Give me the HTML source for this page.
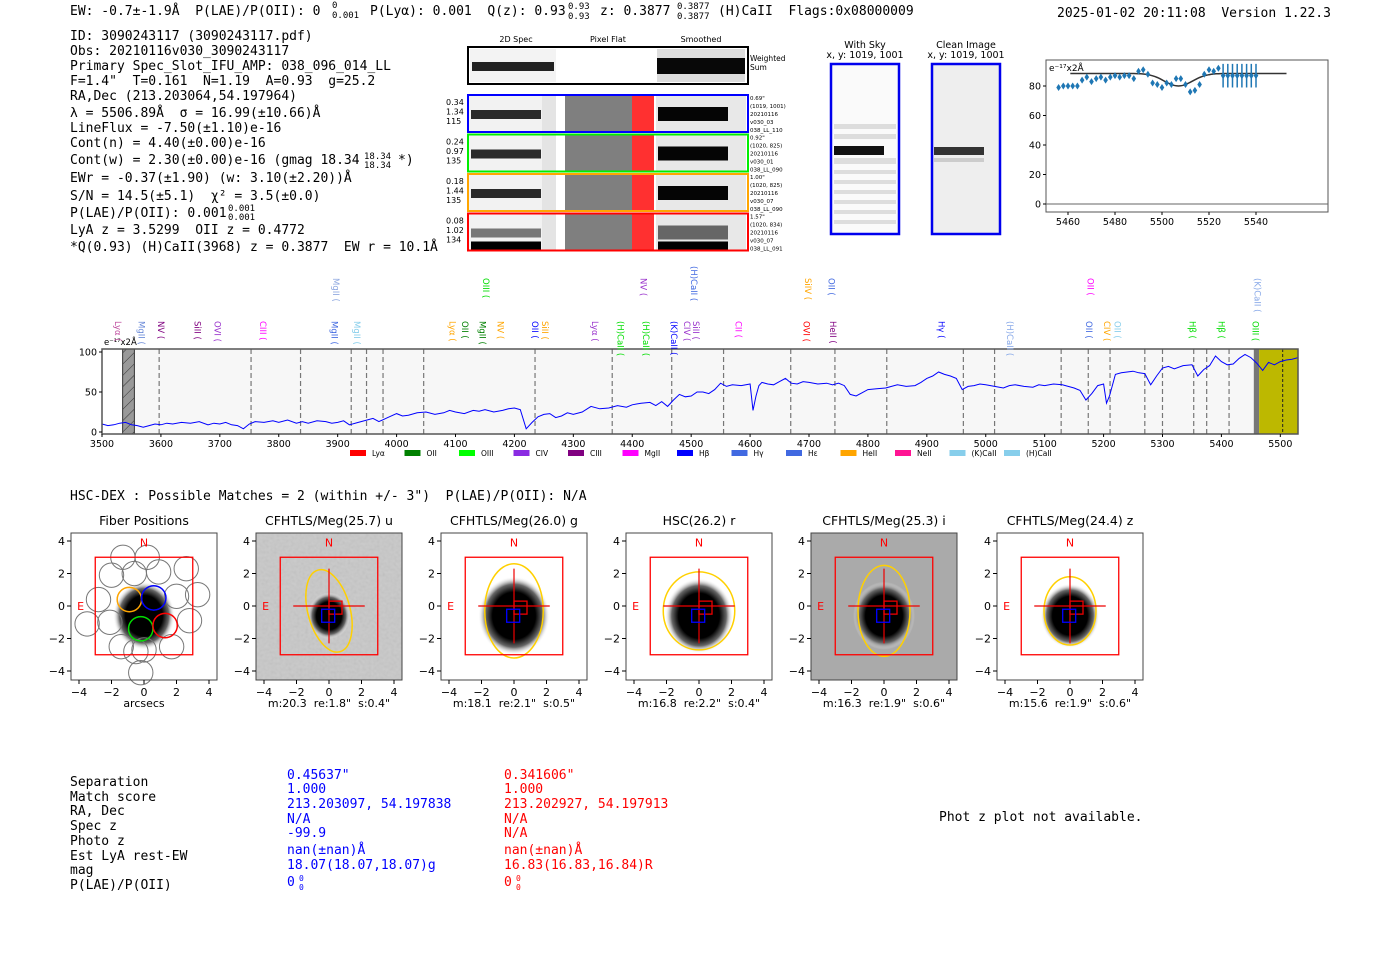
<!DOCTYPE html>
<html><head><meta charset="utf-8">
<style>
body{margin:0;background:#fff;width:1400px;height:953px;overflow:hidden}
svg{display:block}
text{white-space:pre}
.m{font-family:"DejaVu Sans Mono","Liberation Mono",monospace;font-size:13px;fill:#000}
.s{font-family:"DejaVu Sans","Liberation Sans",sans-serif;fill:#000}
</style></head>
<body>
<svg id="root" width="1400" height="953" viewBox="0 0 1400 953" xml:space="preserve">
<defs>
<radialGradient id="blob" cx="50%" cy="50%" r="50%"><stop offset="0" stop-color="#000"/><stop offset="0.6" stop-color="#000"/><stop offset="0.8" stop-color="#666"/><stop offset="1" stop-color="#fff" stop-opacity="0"/></radialGradient>
<pattern id="hatch" width="8" height="8" patternUnits="userSpaceOnUse" patternTransform="rotate(45)"><rect width="8" height="8" fill="#999"/><line x1="0" y1="0" x2="0" y2="8" stroke="#333" stroke-width="1"/></pattern>
<filter id="noise" x="0" y="0" width="1" height="1"><feTurbulence type="fractalNoise" baseFrequency="0.35" numOctaves="1" seed="3"/><feColorMatrix type="saturate" values="0"/><feComponentTransfer><feFuncA type="table" tableValues="0 0.35"/></feComponentTransfer></filter>
</defs>

<!-- header -->
<g class="m">
<text x="70" y="15">EW: -0.7±-1.9Å  P(LAE)/P(OII): 0</text>
<text x="332" y="8" font-size="9">0</text><text x="332" y="18" font-size="9">0.001</text>
<text x="370" y="15">P(Lyα): 0.001  Q(z): 0.93</text>
<text x="568" y="9" font-size="9">0.93</text><text x="568" y="19" font-size="9">0.93</text>
<text x="600" y="15">z: 0.3877</text>
<text x="677" y="9" font-size="9">0.3877</text><text x="677" y="19" font-size="9">0.3877</text>
<text x="718" y="15">(H)CaII  Flags:0x08000009</text>
<text x="1057" y="17">2025-01-02 20:11:08  Version 1.22.3</text>
</g>

<g class="m">
<text x="70" y="40">ID: 3090243117 (3090243117.pdf)</text>
<text x="70" y="55">Obs: 20210116v030_3090243117</text>
<text x="70" y="70">Primary Spec_Slot_IFU_AMP: 038_096_014_LL</text>
<text x="70" y="85">F=1.4"  T=0.161  N=1.19  A=0.93  g=25.2</text>
<text x="70" y="100">RA,Dec (213.203064,54.197964)</text>
<text x="70" y="117">λ = 5506.89Å  σ = 16.99(±10.66)Å</text>
<text x="70" y="132">LineFlux = -7.50(±1.10)e-16</text>
<text x="70" y="147">Cont(n) = 4.40(±0.00)e-16</text>
<text x="70" y="164">Cont(w) = 2.30(±0.00)e-16 (gmag 18.34</text>
<text x="364" y="159" font-size="9">18.34</text><text x="364" y="168" font-size="9">18.34</text>
<text x="398" y="164">*)</text>
<text x="70" y="182">EWr = -0.37(±1.90) (w: 3.10(±2.20))Å</text>
<text x="70" y="200">S/N = 14.5(±5.1)  χ² = 3.5(±0.0)</text>
<text x="70" y="217">P(LAE)/P(OII): 0.001</text>
<text x="228" y="211" font-size="9">0.001</text><text x="228" y="220" font-size="9">0.001</text>
<text x="70" y="234">LyA z = 3.5299  OII z = 0.4772</text>
<text x="70" y="251">*Q(0.93) (H)CaII(3968) z = 0.3877  EW r = 10.1Å</text>
</g>

<!-- 2D spectra -->
<g>
<g class="s" font-size="8">
<text x="516" y="42" text-anchor="middle">2D Spec</text>
<text x="608" y="42" text-anchor="middle">Pixel Flat</text>
<text x="701" y="42" text-anchor="middle">Smoothed</text>
</g>
<g>
<rect x="468" y="47" width="280" height="37" fill="#fff" stroke="#000" stroke-width="2"/>
<rect x="470" y="49" width="86" height="33" fill="#f3f3f3"/><rect x="472" y="62" width="82" height="9" fill="#222"/>
<rect x="657" y="49" width="88" height="33" fill="#ddd"/><rect x="657" y="58" width="88" height="16" fill="#080808"/>
<text class="s" x="750" y="61" font-size="7.5">Weighted</text><text class="s" x="750" y="70" font-size="7.5">Sum</text>
</g>
<g id="rows"></g>
</g>

<!-- with sky / clean -->
<g class="s" font-size="9.5">
<text x="865" y="48" text-anchor="middle">With Sky</text><text x="865" y="58" text-anchor="middle">x, y: 1019, 1001</text>
<text x="966" y="48" text-anchor="middle">Clean Image</text><text x="966" y="58" text-anchor="middle">x, y: 1019, 1001</text>
<rect x="831" y="64" width="68" height="170" fill="#fafafa" stroke="#0000ee" stroke-width="2.5"/>
<g fill="#ddd"><rect x="834" y="124" width="62" height="5"/><rect x="834" y="134" width="62" height="5"/><rect x="834" y="158" width="62" height="6"/><rect x="834" y="170" width="62" height="4"/><rect x="834" y="180" width="62" height="4"/><rect x="834" y="190" width="62" height="4"/><rect x="834" y="200" width="62" height="4"/><rect x="834" y="210" width="62" height="4"/><rect x="834" y="220" width="62" height="4"/></g>
<rect x="834" y="146" width="50" height="9" fill="#111"/>
<rect x="932" y="64" width="68" height="170" fill="#eee" stroke="#0000ee" stroke-width="2.5"/>
<rect x="934" y="147" width="50" height="8" fill="#333"/><rect x="934" y="158" width="50" height="4" fill="#ccc"/>
</g>

<!-- zoom line fit chart -->
<g id="fit">
<rect x="1046" y="60" width="282" height="152" fill="#fff" stroke="#555" stroke-width="1"/>
</g>

<!-- main spectrum -->
<g id="spec"></g>

<!-- HSC-DEX -->
<text class="m" x="70" y="500">HSC-DEX : Possible Matches = 2 (within +/- 3")  P(LAE)/P(OII): N/A</text>
<g id="cut"></g>

<!-- table -->
<g class="m" font-size="12.5">
<g><text x="70" y="786">Separation</text><text x="70" y="801">Match score</text><text x="70" y="815">RA, Dec</text><text x="70" y="830">Spec z</text><text x="70" y="845">Photo z</text><text x="70" y="860">Est LyA rest-EW</text><text x="70" y="874">mag</text><text x="70" y="889">P(LAE)/P(OII)</text></g>
<g><text x="287" y="779" style="fill:#00f">0.45637"</text><text x="287" y="793" style="fill:#00f">1.000</text><text x="287" y="808" style="fill:#00f">213.203097, 54.197838</text><text x="287" y="823" style="fill:#00f">N/A</text><text x="287" y="837" style="fill:#00f">-99.9</text><text x="287" y="854" style="fill:#00f">nan(±nan)Å</text><text x="287" y="869" style="fill:#00f">18.07(18.07,18.07)g</text><text x="287" y="886" style="fill:#00f">0</text><text x="299" y="881" font-size="8" style="fill:#00f">0</text><text x="299" y="890" font-size="8" style="fill:#00f">0</text></g>
<g><text x="504" y="779" style="fill:#f00">0.341606"</text><text x="504" y="793" style="fill:#f00">1.000</text><text x="504" y="808" style="fill:#f00">213.202927, 54.197913</text><text x="504" y="823" style="fill:#f00">N/A</text><text x="504" y="837" style="fill:#f00">N/A</text><text x="504" y="854" style="fill:#f00">nan(±nan)Å</text><text x="504" y="869" style="fill:#f00">16.83(16.83,16.84)R</text><text x="504" y="886" style="fill:#f00">0</text><text x="516" y="881" font-size="8" style="fill:#f00">0</text><text x="516" y="890" font-size="8" style="fill:#f00">0</text></g>
<text x="939" y="821">Phot z plot not available.</text>
</g>
</svg>

<script>
const NS='http://www.w3.org/2000/svg';
function mk(p,tag,a,txt){const e=document.createElementNS(NS,tag);for(const k in a)e.setAttribute(k,a[k]);if(txt!==undefined)e.textContent=txt;p.appendChild(e);return e;}

/* ---------- 2D spectra rows ---------- */
const rowColors=['#0000ff','#00ee00','#ffa500','#ff0000'];
const rowLeft=[['0.34','1.34','115'],['0.24','0.97','135'],['0.18','1.44','135'],['0.08','1.02','134']];
const rowRight=[['0.69"','(1019, 1001)','20210116','v030_03','038_LL_110'],['0.92"','(1020, 825)','20210116','v030_01','038_LL_090'],['1.00"','(1020, 825)','20210116','v030_07','038_LL_090'],['1.57"','(1020, 834)','20210116','v030_07','038_LL_091']];
const rowsG=document.getElementById('rows');
for(let i=0;i<4;i++){
  const y=95+i*39.5;
  const g=mk(rowsG,'g',{});
  
  
  mk(g,'rect',{x:469,y:y+1,width:87,height:35,fill:'#f2f2f2'});
  mk(g,'rect',{x:542,y:y+1,width:14,height:35,fill:'#e4e4e4'});
  mk(g,'rect',{x:471,y:y+15,width:70,height:9,fill:i==3?'#777':'#2a2a2a'});
  if(i==3) mk(g,'rect',{x:471,y:y+28,width:70,height:8,fill:'#000'});
  mk(g,'rect',{x:565,y:y+1,width:67,height:35,fill:'#7f7f7f'});
  mk(g,'rect',{x:632,y:y+1,width:22,height:35,fill:'#ff3030'});
  mk(g,'rect',{x:656,y:y+1,width:90,height:35,fill:'#e8e8e8'});
  mk(g,'rect',{x:658,y:y+12,width:70,height:14,fill:i==3?'#666':'#050505'});
  if(i==3) mk(g,'rect',{x:658,y:y+28,width:70,height:8,fill:'#000'});
  mk(g,'rect',{x:468,y:y,width:280,height:37,fill:'none',stroke:rowColors[i],'stroke-width':2});
  rowLeft[i].forEach((t,j)=>mk(g,'text',{x:446,y:y+10+j*9.5,'font-size':8,class:'s'},t));
  rowRight[i].forEach((t,j)=>mk(g,'text',{x:750,y:y+5+j*8,'font-size':5.5,class:'s'},t));
}

/* ---------- line fit chart ---------- */
const fitWaves=[5456,5458,5460,5462,5464,5466,5468,5470,5472,5474,5476,5478,5480,5482,5484,5486,5488,5490,5492,5494,5496,5498,5500,5502,5504,5506,5508,5510,5512,5514,5516,5518,5520,5522,5524,5526,5528,5530,5532,5534,5536,5538,5540];
const fitFlux=[79,80,80,80,80,84,86,83,85,86,84,86,87,86,87,87,85,90,91,88,82,81,79,82,81,85,85,81,76,77,81,88,91,90,92,87,87,87,87,87,87,87,87];
const fitErr=[1.5,1.5,1.5,1.5,1.5,1.5,1.5,1.5,1.5,1.5,1.5,1.5,1.5,1.5,1.5,1.5,1.5,1.5,1.5,1.5,1.5,1.5,1.5,1.5,1.5,1.5,1.5,1.5,1.5,1.5,1.5,1.5,1.5,1.5,1.5,8,8,8,8,8,8,8,8];
const fitYTicks=[0,20,40,60,80];
const fitXTicks=[5460,5480,5500,5520,5540];
const modelBase=88.5, modelDepth=8.5, modelCenter=5507, modelSigma=6, modelStart=5461, modelEnd=5553;
const fx=w=>1068+(w-5460)*2.35, fy=v=>204-v*1.475;
const fitG=document.getElementById('fit');
mk(fitG,'line',{x1:1046,x2:1328,y1:fy(0),y2:fy(0),stroke:'#666','stroke-width':1});
fitYTicks.forEach(t=>{mk(fitG,'line',{x1:1043,x2:1046,y1:fy(t),y2:fy(t),stroke:'#000'});mk(fitG,'text',{x:1041,y:fy(t)+3.5,'font-size':9.5,'text-anchor':'end',class:'s'},t);});
fitXTicks.forEach(t=>{mk(fitG,'line',{x1:fx(t),x2:fx(t),y1:212,y2:215,stroke:'#000'});mk(fitG,'text',{x:fx(t),y:225,'font-size':9.5,'text-anchor':'middle',class:'s'},t);});
mk(fitG,'text',{x:1049,y:71,'font-size':9,class:'s'},'e⁻¹⁷x2Å');
let md='';for(let w=modelStart;w<=modelEnd;w+=1){const v=modelBase-modelDepth*Math.exp(-0.5*((w-modelCenter)/modelSigma)**2);md+=(md?'L':'M')+fx(w).toFixed(1)+','+fy(v).toFixed(1);}
const mp=mk(fitG,'path',{d:md,fill:'none',stroke:'#333','stroke-width':1.5});


fitWaves.forEach((w,i)=>{
  const g=mk(fitG,'g',{});
  
  
  mk(g,'line',{x1:fx(w),x2:fx(w),y1:fy(fitFlux[i]-fitErr[i]),y2:fy(fitFlux[i]+fitErr[i]),stroke:'#1f77b4','stroke-width':1.5});
  mk(g,'path',{d:`M${fx(w)},${fy(fitFlux[i])-3.5}l2.3,3.5l-2.3,3.5l-2.3,-3.5z`,fill:'#1f77b4'});
});

/* ---------- full spectrum ---------- */
const specWaves=[3500,3510,3520,3530,3540,3550,3560,3570,3580,3590,3600,3610,3620,3635,3650,3665,3680,3690,3700,3710,3720,3730,3740,3750,3760,3775,3790,3800,3815,3830,3840,3850,3865,3880,3890,3900,3910,3920,3935,3950,3960,3970,3985,4000,4010,4020,4035,4050,4065,4080,4090,4100,4115,4130,4140,4150,4165,4180,4190,4200,4210,4220,4230,4240,4250,4260,4270,4280,4290,4300,4315,4330,4345,4360,4375,4390,4400,4415,4430,4440,4450,4460,4470,4480,4490,4500,4510,4520,4530,4540,4550,4560,4570,4585,4600,4605,4610,4615,4620,4630,4640,4650,4660,4670,4680,4690,4700,4715,4730,4740,4750,4760,4770,4780,4790,4800,4815,4830,4840,4850,4865,4880,4890,4900,4910,4920,4930,4940,4950,4960,4970,4980,4990,5000,5015,5030,5040,5050,5065,5080,5090,5100,5115,5130,5140,5150,5160,5170,5180,5190,5200,5205,5210,5220,5230,5240,5250,5260,5270,5280,5290,5300,5310,5320,5335,5350,5360,5370,5380,5390,5400,5410,5420,5430,5440,5450,5460,5470,5480,5490,5500,5510,5520,5530];
const specFlux=[10,8,9,11,12,9,8,6,8,10,9,11,10,12,11,13,9,11,10,12,9,8,4,10,13,12,14,12,15,11,13,11,14,13,11,12,14,9,12,15,17,13,18,23,20,21,24,25,22,24,27,25,23,27,26,28,25,27,29,30,28,4,12,19,22,23,18,20,24,22,25,32,29,30,33,31,34,36,37,33,38,32,40,47,44,45,50,50,48,53,61,57,59,58,60,27,45,58,62,60,59,63,67,61,60,63,62,60,61,59,61,58,47,45,49,53,54,55,57,59,57,58,62,67,70,75,72,70,67,53,57,58,60,59,57,55,58,59,57,56,59,58,60,59,57,55,52,40,48,58,60,36,45,72,74,75,76,74,73,59,70,80,82,79,83,84,70,78,83,95,88,84,85,92,97,93,86,77,87,84,88,90,91,93,84,80,90];
const specXTicks=[3500,3600,3700,3800,3900,4000,4100,4200,4300,4400,4500,4600,4700,4800,4900,5000,5100,5200,5300,5400,5500];
const specYTicks=[0,50,100];
const dashWaves=[3597,3753,3837,3923,3949,3977,4046,4235,4366,4467,4555,4669,4744,4832,4962,5015,5128,5174,5211,5270,5300,5353,5375,5413];
const lowLabels=['Lyα','MgII','NV','SiII','OVI','CIII','MgII','MgII','Lyα','OII','MgII','NV','OII','SiII','Lyα','(H)CaII','(H)CaII','(K)CaII','CIV','SiII','CII','OVI','HeII','Hγ','(H)CaII','OII','CIV','OII','Hβ','Hβ','OIII'];
const lowWaves=[3527,3567,3600,3662,3696,3773,3895,3933,4095,4116,4146,4176,4235,4252,4337,4380,4423,4471,4493,4508,4580,4696,4741,4925,5041,5175,5206,5224,5351,5400,5458];
const lowColors=['#c050a0','#6a8ad8','#800080','#800080','#9932cc','#ff00ff','#4169e1','#87ceeb','#ffa500','#008000','#008000','#ffa500','#0000ff','#ffa500','#9932cc','#00dd00','#00dd00','#0000ff','#9932cc','#9932cc','#ff00ff','#ff0000','#800080','#0000ff','#87a8e8','#4169e1','#ffa500','#87ceeb','#00dd00','#00dd00','#00dd00'];
const highLabels=['MgII','OIII','NV','(H)CaII','SiIV','OII','OII','(K)CaII'];
const highWaves=[3897,4152,4419,4505,4698,4738,5178,5461];
const highColors=['#8fa8e0','#00dd00','#9932cc','#4169e1','#ffa500','#4169e1','#ff00ff','#87a8e8'];
const legendNames=['Lyα','OII','OIII','CIV','CIII','MgII','Hβ','Hγ','Hε','HeII','NeII','(K)CaII','(H)CaII'];
const legendColors=['#ff0000','#008000','#00ff00','#8a2be2','#800080','#ff00ff','#0000ff','#4169e1','#4169e1','#ffa500','#ff1493','#87ceeb','#87ceeb'];
const SX0=3500,SX1=5530,PL=102,PR=1298,PT=349,PB=434;
const sx=w=>PL+(w-SX0)*(PR-PL)/(SX1-SX0), sy=v=>432-v*0.8;
const sg=document.getElementById('spec');
mk(sg,'rect',{x:PL,y:PT,width:PR-PL,height:PB-PT,fill:'#f7f7f7'});
mk(sg,'rect',{x:PL,y:PT,width:sx(3535)-PL,height:PB-PT,fill:'#fff'});
mk(sg,'rect',{x:sx(3535),y:PT,width:sx(3555)-sx(3535),height:PB-PT,fill:'url(#hatch)',stroke:'#333'});
mk(sg,'rect',{x:sx(5455),y:PT,width:sx(5464)-sx(5455),height:PB-PT,fill:'#777'});
mk(sg,'rect',{x:sx(5464),y:PT,width:PR-sx(5464),height:PB-PT,fill:'#bdb800'});
mk(sg,'line',{x1:sx(5504),x2:sx(5504),y1:PT,y2:PB,stroke:'#222','stroke-dasharray':'3,2'});
dashWaves.forEach(w=>{const l=mk(sg,'line',{x1:sx(w),x2:sx(w),y1:PT,y2:PB,stroke:'#777','stroke-dasharray':'5,3','stroke-width':1.2});
  
  });
let sd='';specWaves.forEach((w,i)=>{sd+=(i?'L':'M')+sx(w).toFixed(1)+','+sy(specFlux[i]).toFixed(1);});
const sp=mk(sg,'path',{d:sd,fill:'none',stroke:'#0000ff','stroke-width':1});


mk(sg,'rect',{x:PL,y:PT,width:PR-PL,height:PB-PT,fill:'none',stroke:'#555','stroke-width':1.5});
specXTicks.forEach(t=>{mk(sg,'line',{x1:sx(t),x2:sx(t),y1:PB,y2:PB+3,stroke:'#000'});mk(sg,'text',{x:sx(t),y:447,'font-size':9.5,'text-anchor':'middle',class:'s'},t);});
specYTicks.forEach(t=>{mk(sg,'line',{x1:PL-3,x2:PL,y1:sy(t),y2:sy(t),stroke:'#000'});mk(sg,'text',{x:PL-5,y:sy(t)+3.5,'font-size':9.5,'text-anchor':'end',class:'s'},t);});
mk(sg,'text',{x:PL+2,y:345,'font-size':8.5,class:'s'},'e⁻¹⁷x2Å');
lowLabels.forEach((t,i)=>{const x=sx(lowWaves[i]);const e=mk(sg,'text',{x:0,y:0,'font-size':8.5,class:'s',style:'fill:'+lowColors[i],transform:`translate(${x-3},${321}) rotate(90)`},t+' (');
  
  });
highLabels.forEach((t,i)=>{const x=sx(highWaves[i]);const e=mk(sg,'text',{x:0,y:0,'font-size':8.5,class:'s',style:'fill:'+highColors[i],transform:`translate(${x-3},${266+(i==3?0:12)}) rotate(90)`},t+' (');
  
  });
legendNames.forEach((n,i)=>{const x=350+i*54.5;const g=mk(sg,'g',{});
  
  
  mk(g,'rect',{x:x,y:450,width:16,height:6,fill:legendColors[i]});
  mk(g,'text',{x:x+22,y:456,'font-size':7.5,class:'s'},n);});

/* ---------- cutouts ---------- */
const cutTitles=['Fiber Positions','CFHTLS/Meg(25.7) u','CFHTLS/Meg(26.0) g','HSC(26.2) r','CFHTLS/Meg(25.3) i','CFHTLS/Meg(24.4) z'];
const cutFooters=['arcsecs','m:20.3  re:1.8"  s:0.4"','m:18.1  re:2.1"  s:0.5"','m:16.8  re:2.2"  s:0.4"','m:16.3  re:1.9"  s:0.6"','m:15.6  re:1.9"  s:0.6"'];
const cutBg=['#fff','#c8c8c8','#fff','#fff','#aaa','#fff'];
const blobR=[1.9,1.3,2.2,2.1,1.9,1.8];
const ellA=[0,1.3,1.8,2.2,1.6,1.6],ellB=[0,2.6,2.9,2.4,2.8,2.1],ellRot=[0,-15,0,0,0,0];
const cutTicks=[-4,-2,0,2,4];
const cg=document.getElementById('cut');
const centers=[144,329,514,699,884,1070];
centers.forEach((c,i)=>{
  const U=16.25,cy=606;
  const px=v=>c+v*U,py=v=>cy-v*U;
  const g=mk(cg,'g',{});
  
  
  mk(g,'rect',{x:c-73,y:533,width:146,height:147,fill:cutBg[i]});
  if(i==1) mk(g,'rect',{x:c-73,y:533,width:146,height:147,fill:'#000',filter:'url(#noise)',opacity:0.6});
  const r=blobR[i];
  mk(g,'ellipse',{cx:px(0),cy:py(-0.6),rx:r*U,ry:r*U*1.1,fill:'url(#blob)'});
  if(i==0){
    const fib=[[-1.3,3],[0.2,3],[-2,1.9],[-0.6,2],[0.9,2.1],[2.6,2.3],[-2.8,0.4],[-0.9,0.4],[0.6,0.5],[2,0.6],[3.3,0.7],[-3.5,-1.1],[-2.1,-1],[-0.2,-1.4],[1.3,-1.2],[2.8,-0.9],[-1.4,-2.5],[0,-2.7],[1.7,-2.5],[-0.2,-4.1],[-0.5,-2.8]];
    fib.forEach(f=>mk(g,'circle',{cx:px(f[0]),cy:py(f[1]),r:0.75*U,fill:'none',stroke:'#777','stroke-width':1}));
    [[-0.9,0.4,'#ffa500'],[0.6,0.5,'#0000ff'],[-0.2,-1.4,'#00dd00'],[1.3,-1.2,'#ff0000']].forEach(f=>mk(g,'circle',{cx:px(f[0]),cy:py(f[1]),r:0.75*U,fill:'none',stroke:f[2],'stroke-width':1.5}));
  } else {
    mk(g,'ellipse',{cx:px(0),cy:py(-0.3),rx:ellA[i]*U,ry:ellB[i]*U,fill:'none',stroke:'#ffd000','stroke-width':1.5,transform:`rotate(${ellRot[i]},${px(0)},${py(-0.3)})`});
    mk(g,'line',{x1:px(-2.2),x2:px(2.2),y1:py(0),y2:py(0),stroke:'#e00','stroke-width':1.2});
    mk(g,'line',{x1:px(0),x2:px(0),y1:py(2.3),y2:py(-2.3),stroke:'#e00','stroke-width':1.2});
    mk(g,'rect',{x:px(0),y:py(0.3),width:0.8*U,height:0.8*U,fill:'none',stroke:'#e00','stroke-width':1.3});
    mk(g,'rect',{x:px(-0.45),y:py(-0.2),width:0.8*U,height:0.8*U,fill:'none',stroke:'#00f','stroke-width':1.3});
  }
  mk(g,'rect',{x:px(-3),y:py(3),width:6*U,height:6*U,fill:'none',stroke:'#f00','stroke-width':1.3});
  mk(g,'text',{x:px(0),y:py(3.9)+4,'font-size':11,'text-anchor':'middle',class:'s',style:'fill:#f00'},'N');
  mk(g,'text',{x:px(-3.9),y:py(0)+4,'font-size':11,'text-anchor':'middle',class:'s',style:'fill:#f00'},'E');
  mk(g,'rect',{x:c-73,y:533,width:146,height:147,fill:'none',stroke:'#444','stroke-width':1});
  cutTicks.forEach(t=>{mk(g,'line',{x1:px(t),x2:px(t),y1:680,y2:684,stroke:'#000'});
    mk(g,'text',{x:px(t),y:696,'font-size':11,'text-anchor':'middle',class:'s'},t<0?'−'+(-t):t);
    mk(g,'line',{x1:c-77,x2:c-73,y1:py(t),y2:py(t),stroke:'#000'});
    mk(g,'text',{x:c-79,y:py(t)+4,'font-size':11,'text-anchor':'end',class:'s'},t<0?'−'+(-t):t);});
  mk(g,'text',{x:c,y:525,'font-size':12.5,'text-anchor':'middle',class:'s'},cutTitles[i]);
  mk(g,'text',{x:c,y:707,'font-size':11,'text-anchor':'middle',class:'s'},cutFooters[i]);
});
</script>
</body></html>
